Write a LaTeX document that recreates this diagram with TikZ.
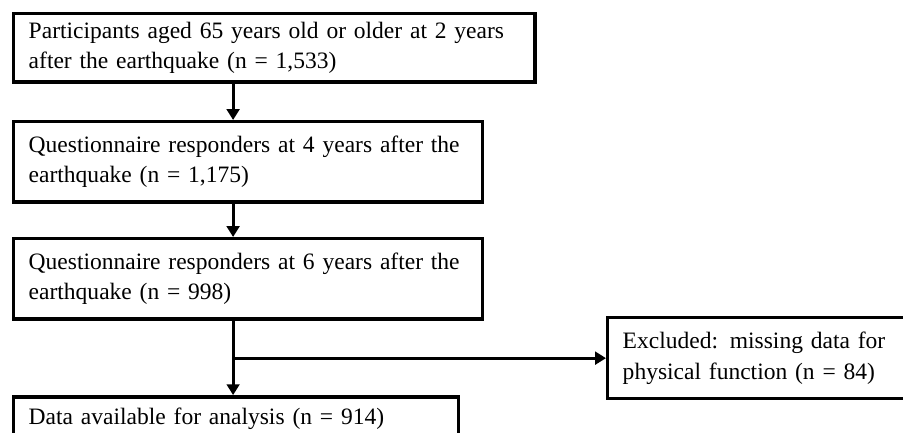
\documentclass[tikz,border=0pt]{standalone}
\usepackage{fontspec}
\setmainfont{Liberation Serif}
\usepackage{tikz}
\usetikzlibrary{arrows.meta}
\usetikzlibrary{positioning}

\begin{document}
\begin{tikzpicture}[
  flowbox/.style={draw, line width=3.3pt, align=left, anchor=north west,
    inner xsep=0.5cm, inner ysep=0pt, font=\fontsize{22.3pt}{29pt}\selectfont},
  flowarrow/.style={line width=2.8pt, -{Triangle[length=0.36cm,width=0.42cm]}}
]
  \useasboundingbox (0,0) rectangle (30.1,-14.4);

  %% flow of participants
  \node[flowbox, text width=16.37cm, minimum height=2.27cm] (aged) at (0.4,-0.4)
    {Participants aged 65 years old or older at 2 years\\after the earthquake (n = 1,533)};
  \node[flowbox, text width=14.63cm, minimum height=2.67cm] (resp4) at (0.4,-4.0)
    {Questionnaire responders at 4 years after the\\earthquake (n = 1,175)};
  \node[flowbox, text width=14.63cm, minimum height=2.67cm] (resp6) at (0.4,-7.9)
    {Questionnaire responders at 6 years after the\\earthquake (n = 998)};
  \node[flowbox, text width=13.83cm, minimum height=1.47cm] (avail) at (0.4,-13.17)
    {Data available for analysis (n = 914)};

  % exclusion
  \node[flowbox, text width=10cm, minimum height=2.7cm] (excl) at (20.2,-10.53)
    {Excluded: missing data for\\physical function (n = 84)};

  %% connectors
  \coordinate (spine) at (7.77,0);
  \draw[flowarrow] (aged.south -| spine) -- (resp4.north -| spine);
  \draw[flowarrow] (resp4.south -| spine) -- (resp6.north -| spine);
  \draw[flowarrow] (resp6.south -| spine) -- (avail.north -| spine);
  \draw[flowarrow] (excl.west -| spine) -- (excl.west);
\end{tikzpicture}
\end{document}
